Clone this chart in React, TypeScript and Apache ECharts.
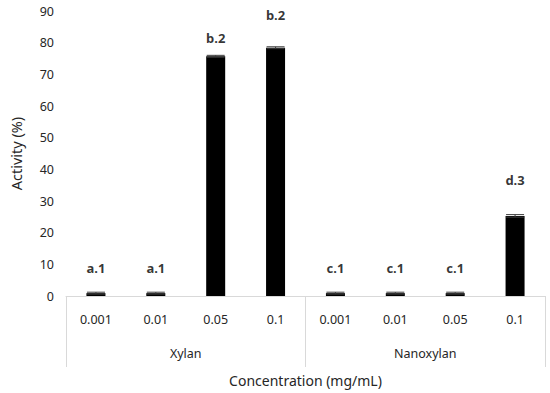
import React, { useEffect, useRef } from "react";
import * as echarts from "echarts";

const categories = ["0.001", "0.01", "0.05", "0.1", "0.001", "0.01", "0.05", "0.1"];
const groups = ["Xylan", "Nanoxylan"];
const activity = [0.9, 0.9, 75.7, 78.4, 0.9, 0.9, 0.9, 25.3];
const errors = [0.3, 0.3, 0.3, 0.3, 0.3, 0.3, 0.3, 0.4];
const letterLabels = ["a.1", "a.1", "b.2", "b.2", "c.1", "c.1", "c.1", "d.3"];
const labelLevels = [8.8, 8.8, 81.5, 88.7, 8.8, 8.8, 8.8, 36.6];
const yTicks = { min: 0, max: 90, interval: 10 };

const FONT = "'Noto Sans', 'Open Sans', sans-serif";

export default function App() {
  const ref = useRef<HTMLDivElement>(null);
  useEffect(() => {
    if (!ref.current) return;
    const chart = echarts.init(ref.current, null, { renderer: "svg" });
    chart.setOption({
      animation: false,
      backgroundColor: "#ffffff",
      textStyle: { fontFamily: FONT },
      grid: { left: 57, right: 5, top: 11, bottom: 97, containLabel: false },
      xAxis: [
        {
          type: "category",
          data: categories,
          position: "bottom",
          axisLine: { show: true, lineStyle: { color: "#d9d9d9", width: 1 } },
          axisTick: { show: false },
          axisLabel: { color: "#262626", fontSize: 12.5, margin: 17, fontFamily: FONT },
        },
        {
          type: "category",
          data: groups,
          position: "bottom",
          axisLine: { show: false },
          axisTick: { show: true, length: 71, lineStyle: { color: "#d9d9d9", width: 1 } },
          axisLabel: { color: "#262626", fontSize: 12.5, margin: 51, fontFamily: FONT },
          name: "Concentration (mg/mL)",
          nameLocation: "middle",
          nameGap: 77,
          nameTextStyle: { color: "#262626", fontSize: 14, fontFamily: FONT },
        },
      ],
      yAxis: {
        type: "value",
        min: yTicks.min,
        max: yTicks.max,
        interval: yTicks.interval,
        axisLine: { show: false },
        axisTick: { show: false },
        splitLine: { show: false },
        axisLabel: { color: "#262626", fontSize: 12.5, margin: 12, fontFamily: FONT },
        name: "Activity (%)",
        nameLocation: "middle",
        nameGap: 43,
        nameRotate: 90,
        nameTextStyle: { color: "#262626", fontSize: 14.5, fontFamily: FONT },
      },
      series: [
        {
          type: "bar",
          data: activity,
          barWidth: 19,
          itemStyle: { color: "#000000" },
          xAxisIndex: 0,
        },
        {
          type: "custom",
          xAxisIndex: 0,
          data: activity.map((v, i) => [i, v - errors[i], v + errors[i]]),
          renderItem: (params: any, api: any) => {
            const x = api.value(0);
            const lo = api.coord([x, api.value(1)]);
            const hi = api.coord([x, api.value(2)]);
            const half = 9;
            const style = { stroke: "#3a3a3a", lineWidth: 1 };
            return {
              type: "group",
              children: [
                { type: "line", shape: { x1: hi[0], y1: hi[1], x2: lo[0], y2: lo[1] }, style },
                { type: "line", shape: { x1: hi[0] - half, y1: hi[1], x2: hi[0] + half, y2: hi[1] }, style },
                { type: "line", shape: { x1: lo[0] - half, y1: lo[1], x2: lo[0] + half, y2: lo[1] }, style },
              ],
            };
          },
          z: 5,
        },
        {
          type: "scatter",
          xAxisIndex: 0,
          symbolSize: 0,
          data: labelLevels.map((v, i) => [i, v]),
          label: {
            show: true,
            position: "inside",
            formatter: (p: any) => letterLabels[p.dataIndex],
            color: "#000000",
            fontWeight: "bold",
            fontSize: 13,
            fontFamily: FONT,
          },
          silent: true,
        },
      ],
    });
    return () => chart.dispose();
  }, []);
  return <div ref={ref} style={{ width: 550, height: 393, position: "absolute", left: 0, top: 0 }} />;
}
